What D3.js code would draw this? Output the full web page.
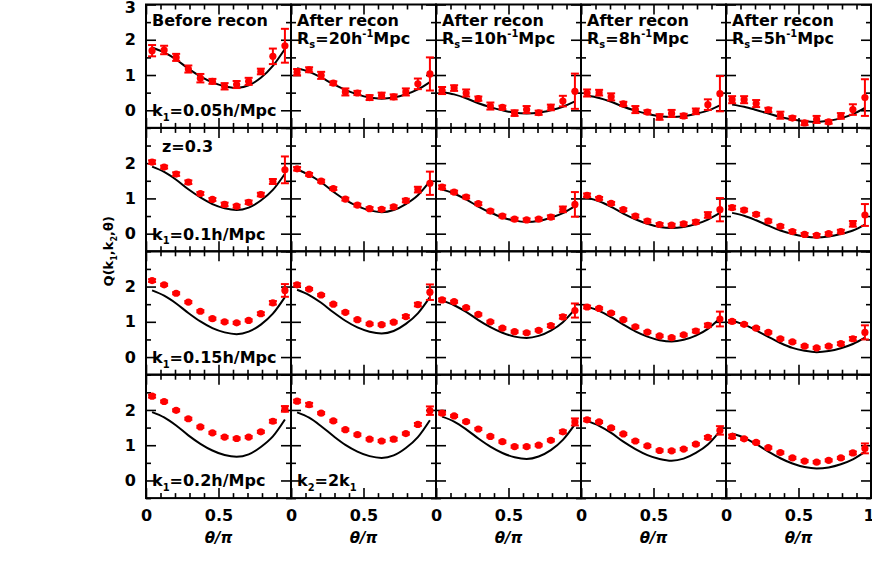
<!DOCTYPE html>
<meta charset="utf-8">
<style>
body { margin: 0; background: #fff; }
text { font-family: "DejaVu Sans", sans-serif; font-weight: bold; fill: #000; }
.frame { fill: none; stroke: #000; stroke-width: 2px; }
.axis path { display: none; }
.axis line { stroke: #000; stroke-width: 1.6px; }
.axis text { font-family: "DejaVu Sans", sans-serif; font-weight: bold; font-size: 16px; }
.theory { fill: none; stroke: #000; stroke-width: 2px; }
.err { stroke: #f00; stroke-width: 2px; }
.pt { fill: #f00; }
</style>
<svg width="872" height="586"></svg>
<script src="https://d3js.org/d3.v7.min.js"></script>
<script>
// theta/pi of the measured points
var theta = [0.042, 0.125, 0.208, 0.292, 0.375, 0.458, 0.542, 0.625, 0.708, 0.792, 0.875, 0.958];

var k1Labels = ["0.05", "0.1", "0.15", "0.2"];
var smoothing = ["20", "10", "8", "5"];

// rows = k1, each row holds the 5 columns (before recon, Rs=20,10,8,5)
var dataRow1 = [
  [1.69, 1.71, 1.50, 1.17, 0.91, 0.82, 0.68, 0.73, 0.82, 1.10, 1.53, 1.83],
  [1.08, 1.15, 0.99, 0.77, 0.52, 0.49, 0.36, 0.42, 0.38, 0.52, 0.75, 1.03],
  [0.56, 0.63, 0.49, 0.33, 0.12, 0.08, -0.08, 0.02, -0.07, 0.08, 0.26, 0.54],
  [0.49, 0.50, 0.38, 0.18, 0.02, -0.05, -0.19, -0.09, -0.16, -0.03, 0.16, 0.47],
  [0.30, 0.30, 0.19, 0.01, -0.14, -0.22, -0.36, -0.26, -0.33, -0.16, 0.02, 0.36]
];
var errRow1 = [
  [0.16, 0.12, 0.10, 0.10, 0.12, 0.07, 0.09, 0.10, 0.10, 0.08, 0.22, 0.48],
  [0.09, 0.07, 0.10, 0.05, 0.10, 0.06, 0.07, 0.08, 0.07, 0.10, 0.15, 0.47],
  [0.10, 0.08, 0.10, 0.06, 0.10, 0.05, 0.08, 0.10, 0.06, 0.08, 0.15, 0.50],
  [0.10, 0.08, 0.10, 0.06, 0.10, 0.05, 0.08, 0.10, 0.06, 0.08, 0.15, 0.50],
  [0.10, 0.10, 0.10, 0.06, 0.10, 0.05, 0.06, 0.10, 0.05, 0.08, 0.15, 0.52]
];
var theoryRow1 = [
  [1.78, 1.64, 1.44, 1.18, 0.96, 0.79, 0.68, 0.63, 0.71, 0.92, 1.26, 1.74],
  [1.19, 1.09, 0.93, 0.74, 0.58, 0.45, 0.36, 0.33, 0.36, 0.45, 0.59, 0.80],
  [0.52, 0.45, 0.34, 0.20, 0.09, 0.00, -0.07, -0.09, -0.07, 0.00, 0.10, 0.25],
  [0.42, 0.35, 0.24, 0.10, -0.01, -0.10, -0.17, -0.19, -0.17, -0.10, -0.01, 0.14],
  [0.16, 0.10, 0.01, -0.09, -0.19, -0.26, -0.31, -0.33, -0.30, -0.23, -0.11, 0.07]
];

var dataRow2 = [
  [2.03, 1.89, 1.69, 1.46, 1.14, 0.97, 0.83, 0.78, 0.89, 1.11, 1.48, 1.81],
  [1.84, 1.68, 1.49, 1.28, 0.98, 0.81, 0.71, 0.69, 0.76, 0.94, 1.25, 1.43],
  [1.32, 1.18, 1.04, 0.85, 0.64, 0.50, 0.41, 0.39, 0.41, 0.47, 0.69, 0.83],
  [1.09, 1.00, 0.86, 0.68, 0.50, 0.36, 0.26, 0.24, 0.28, 0.33, 0.53, 0.68],
  [0.74, 0.67, 0.55, 0.36, 0.21, 0.06, -0.02, -0.05, 0.00, 0.06, 0.28, 0.53]
];
var errRow2 = [
  [0.05, 0.04, 0.05, 0.05, 0.04, 0.04, 0.05, 0.04, 0.05, 0.05, 0.07, 0.38],
  [0.05, 0.04, 0.04, 0.04, 0.04, 0.04, 0.04, 0.04, 0.04, 0.05, 0.08, 0.33],
  [0.05, 0.04, 0.04, 0.04, 0.04, 0.04, 0.04, 0.04, 0.04, 0.05, 0.08, 0.35],
  [0.05, 0.04, 0.04, 0.04, 0.04, 0.04, 0.04, 0.04, 0.04, 0.05, 0.08, 0.33],
  [0.05, 0.04, 0.04, 0.04, 0.04, 0.04, 0.04, 0.04, 0.04, 0.05, 0.08, 0.31]
];
var theoryRow2 = [
  [1.90, 1.75, 1.53, 1.26, 1.03, 0.84, 0.72, 0.67, 0.74, 0.94, 1.24, 1.70],
  [1.82, 1.67, 1.46, 1.19, 0.96, 0.78, 0.66, 0.61, 0.67, 0.84, 1.09, 1.49],
  [1.25, 1.14, 0.97, 0.77, 0.60, 0.46, 0.37, 0.33, 0.36, 0.45, 0.58, 0.78],
  [1.02, 0.92, 0.76, 0.57, 0.41, 0.28, 0.19, 0.16, 0.19, 0.27, 0.40, 0.59],
  [0.59, 0.51, 0.38, 0.23, 0.09, -0.01, -0.08, -0.11, -0.08, -0.01, 0.09, 0.26]
];

var dataRow3 = [
  [2.17, 2.05, 1.81, 1.56, 1.30, 1.09, 1.00, 0.97, 1.04, 1.23, 1.54, 1.89],
  [2.05, 1.93, 1.76, 1.50, 1.27, 1.06, 0.94, 0.92, 0.99, 1.15, 1.49, 1.84],
  [1.62, 1.57, 1.40, 1.21, 1.00, 0.82, 0.72, 0.69, 0.76, 0.89, 1.14, 1.32],
  [1.42, 1.38, 1.25, 1.06, 0.86, 0.71, 0.60, 0.55, 0.63, 0.74, 0.90, 1.08],
  [1.01, 0.93, 0.82, 0.70, 0.52, 0.43, 0.31, 0.26, 0.31, 0.38, 0.52, 0.70]
];
var errRow3 = [
  [0.04, 0.03, 0.03, 0.03, 0.03, 0.03, 0.03, 0.03, 0.03, 0.04, 0.05, 0.18],
  [0.04, 0.03, 0.03, 0.03, 0.03, 0.03, 0.03, 0.03, 0.03, 0.04, 0.05, 0.22],
  [0.04, 0.03, 0.03, 0.03, 0.03, 0.03, 0.03, 0.03, 0.03, 0.04, 0.05, 0.20],
  [0.04, 0.03, 0.03, 0.03, 0.03, 0.03, 0.03, 0.03, 0.03, 0.04, 0.05, 0.21],
  [0.04, 0.03, 0.03, 0.03, 0.03, 0.03, 0.03, 0.03, 0.03, 0.04, 0.05, 0.20]
];
var theoryRow3 = [
  [1.89, 1.74, 1.52, 1.25, 1.01, 0.82, 0.70, 0.65, 0.72, 0.92, 1.23, 1.70],
  [1.91, 1.76, 1.54, 1.27, 1.03, 0.84, 0.72, 0.67, 0.74, 0.94, 1.24, 1.70],
  [1.60, 1.47, 1.28, 1.05, 0.85, 0.69, 0.58, 0.54, 0.60, 0.75, 0.99, 1.36],
  [1.43, 1.31, 1.13, 0.92, 0.73, 0.58, 0.48, 0.44, 0.49, 0.61, 0.80, 1.10],
  [1.03, 0.92, 0.76, 0.57, 0.40, 0.26, 0.18, 0.14, 0.17, 0.25, 0.37, 0.55]
];

var dataRow4 = [
  [2.39, 2.24, 1.99, 1.75, 1.52, 1.35, 1.23, 1.19, 1.23, 1.38, 1.68, 2.03],
  [2.25, 2.15, 1.91, 1.69, 1.44, 1.30, 1.17, 1.12, 1.17, 1.33, 1.59, 1.98],
  [1.91, 1.83, 1.67, 1.46, 1.25, 1.10, 0.96, 0.96, 1.00, 1.14, 1.38, 1.66],
  [1.72, 1.66, 1.49, 1.32, 1.12, 0.98, 0.85, 0.84, 0.89, 1.03, 1.22, 1.42],
  [1.25, 1.18, 1.08, 0.93, 0.79, 0.64, 0.55, 0.52, 0.57, 0.64, 0.78, 0.91]
];
var errRow4 = [
  [0.04, 0.03, 0.03, 0.03, 0.03, 0.03, 0.03, 0.03, 0.03, 0.03, 0.04, 0.08],
  [0.04, 0.05, 0.03, 0.03, 0.03, 0.03, 0.03, 0.03, 0.04, 0.03, 0.04, 0.12],
  [0.04, 0.03, 0.03, 0.03, 0.03, 0.03, 0.03, 0.03, 0.03, 0.03, 0.04, 0.10],
  [0.04, 0.03, 0.03, 0.03, 0.03, 0.03, 0.03, 0.03, 0.03, 0.03, 0.04, 0.12],
  [0.05, 0.03, 0.03, 0.03, 0.03, 0.03, 0.03, 0.03, 0.03, 0.03, 0.04, 0.14]
];
var theoryRow4 = [
  [1.94, 1.79, 1.56, 1.28, 1.04, 0.85, 0.72, 0.67, 0.74, 0.95, 1.25, 1.73],
  [1.93, 1.78, 1.54, 1.26, 1.01, 0.82, 0.69, 0.64, 0.71, 0.92, 1.23, 1.71],
  [1.81, 1.67, 1.45, 1.19, 0.96, 0.78, 0.66, 0.61, 0.68, 0.86, 1.15, 1.59],
  [1.69, 1.55, 1.35, 1.10, 0.89, 0.72, 0.61, 0.56, 0.62, 0.78, 1.02, 1.40],
  [1.33, 1.21, 1.03, 0.82, 0.63, 0.48, 0.38, 0.34, 0.37, 0.46, 0.60, 0.81]
];

var allData = [dataRow1, dataRow2, dataRow3, dataRow4];
var allErr = [errRow1, errRow2, errRow3, errRow4];
var allTheory = [theoryRow1, theoryRow2, theoryRow3, theoryRow4];

var svg = d3.select("svg");
var gridLeft = 146, gridTop = 4.5, pw = 145, ph = 123.4;

var x = d3.scaleLinear().domain([0, 1]).range([0, pw]);
var y = d3.scaleLinear().domain([-0.5, 3]).range([ph, 0]);

var line = d3.line()
    .x(function(d) { return x(d[0]); })
    .y(function(d) { return y(d[1]); })
    .curve(d3.curveMonotoneX);

// text with sub/superscripts: pieces are [string, "sub"|"sup"|""]
function richText(g, px, py, pieces, size) {
  var t = g.append("text").attr("x", px).attr("y", py).style("font-size", size + "px");
  var cur = 0;
  pieces.forEach(function(p) {
    var target = p[1] == "sub" ? size * 0.3 : (p[1] == "sup" ? -size * 0.4 : 0);
    var s = t.append("tspan").text(p[0]);
    if (target != cur) s.attr("dy", target - cur);
    if (p[1]) s.style("font-size", (size * 0.62) + "px");
    cur = target;
  });
  return t;
}

for (var r = 0; r < 4; r++) {
  for (var c = 0; c < 5; c++) {
    var g = svg.append("g").attr("transform", "translate(" + (gridLeft + c * pw) + "," + (gridTop + r * ph) + ")");

    // ticks on all four sides, pointing inward
    var yMajor = [0, 1, 2, 3], yMinor = [-0.5, 0.5, 1.5, 2.5];
    var xMajor = [0, 0.5, 1], xMinor = [0.1, 0.2, 0.3, 0.4, 0.6, 0.7, 0.8, 0.9];

    var ly = g.append("g").attr("class", "axis")
        .call(d3.axisLeft(y).tickValues(r == 0 ? yMajor : [0, 1, 2]).tickSize(-10).tickPadding(10)
        .tickFormat(c == 0 ? d3.format("d") : ""));
    g.append("g").attr("class", "axis")
        .call(d3.axisLeft(y).tickValues(yMinor).tickSize(-5).tickFormat(""));
    g.append("g").attr("class", "axis").attr("transform", "translate(" + pw + ",0)")
        .call(d3.axisRight(y).tickValues(yMajor).tickSize(-10).tickFormat(""));
    g.append("g").attr("class", "axis").attr("transform", "translate(" + pw + ",0)")
        .call(d3.axisRight(y).tickValues(yMinor).tickSize(-5).tickFormat(""));
    if (r == 0 && c == 0) ly.selectAll("text").filter(function(d) { return d == 3; }).attr("dy", "0.5em");
    if (c != 0) ly.selectAll("text").remove();

    var xLab = (r == 3) ? (c == 4 ? xMajor : [0, 0.5]) : [];
    var bx = g.append("g").attr("class", "axis").attr("transform", "translate(0," + ph + ")")
        .call(d3.axisBottom(x).tickValues(xMajor).tickSize(-10).tickPadding(12)
        .tickFormat(function(d) { return d == 0 ? "0" : d3.format("")(d); }));
    bx.selectAll("text").filter(function(d) { return xLab.indexOf(d) < 0; }).remove();
    if (c == 4) bx.selectAll("text").filter(function(d) { return d == 1; }).attr("dx", "-0.15em");
    g.append("g").attr("class", "axis").attr("transform", "translate(0," + ph + ")")
        .call(d3.axisBottom(x).tickValues(xMinor).tickSize(-5).tickFormat(""));
    g.append("g").attr("class", "axis")
        .call(d3.axisTop(x).tickValues(xMajor).tickSize(-10).tickFormat(""));
    g.append("g").attr("class", "axis")
        .call(d3.axisTop(x).tickValues(xMinor).tickSize(-5).tickFormat(""));

    g.append("rect").attr("class", "frame").attr("width", pw).attr("height", ph);

    // theory curve
    var th = allTheory[r][c].map(function(v, i) { return [theta[i], v]; });
    g.append("path").attr("class", "theory").attr("d", line(th));

    // measurements with error bars
    var pts = allData[r][c].map(function(v, i) { return { t: theta[i], q: v, e: allErr[r][c][i] }; });
    var eb = g.selectAll(".eb").data(pts).enter().append("g");
    eb.append("line").attr("class", "err")
        .attr("x1", function(d) { return x(d.t); }).attr("x2", function(d) { return x(d.t); })
        .attr("y1", function(d) { return y(d.q - d.e); }).attr("y2", function(d) { return y(d.q + d.e); });
    [-1, 1].forEach(function(s) {
      eb.append("line").attr("class", "err")
          .attr("x1", function(d) { return x(d.t) - 4; }).attr("x2", function(d) { return x(d.t) + 4; })
          .attr("y1", function(d) { return y(d.q + s * d.e); }).attr("y2", function(d) { return y(d.q + s * d.e); });
    });
    eb.append("circle").attr("class", "pt")
        .attr("cx", function(d) { return x(d.t); }).attr("cy", function(d) { return y(d.q); }).attr("r", 3.6);

    // panel annotations
    if (r == 0) {
      if (c == 0) richText(g, 6, 21.5, [["Before recon", ""]], 16);
      else {
        richText(g, 6, 21.5, [["After recon", ""]], 16);
        richText(g, 6, 39, [["R", ""], ["s", "sub"], ["=" + smoothing[c - 1] + "h", ""], ["-1", "sup"], ["Mpc", ""]], 16);
      }
    }
    if (c == 0) {
      richText(g, 6, y(0) + 6, [["k", ""], ["1", "sub"], ["=" + k1Labels[r] + "h/Mpc", ""]], 16);
      if (r == 1) richText(g, 16, 24, [["z=0.3", ""]], 16);
    }
    if (r == 3 && c == 1) richText(g, 6, y(0) + 6, [["k", ""], ["2", "sub"], ["=2k", ""], ["1", "sub"]], 16);

    if (r == 3) {
      g.append("text").attr("x", pw / 2).attr("y", ph + 45).attr("text-anchor", "middle")
          .style("font-size", "15px").style("font-style", "italic").text("\u03b8/\u03c0");
    }
  }
}

// shared y label
var yl = svg.append("g").attr("transform", "translate(113," + (gridTop + 2 * ph) + ") rotate(-90)");
richText(yl, 0, 0, [["Q(k", ""], ["1", "sub"], [",k", ""], ["2", "sub"], [",\u03b8)", ""]], 13)
    .attr("text-anchor", "middle");
</script>
